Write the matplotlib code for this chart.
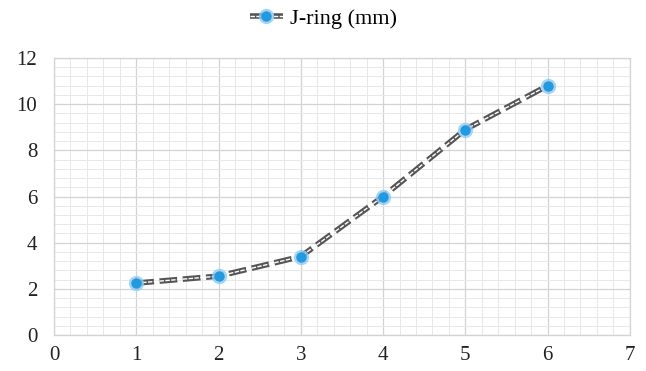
import matplotlib
matplotlib.use("Agg")
import matplotlib.pyplot as plt
from matplotlib.ticker import MultipleLocator

# J-ring readings per test
tests = [1, 2, 3, 4, 5, 6]
j_ring = [2.25, 2.55, 3.4, 6.0, 8.9, 10.8]

DARK = "#555555"
BLUE = "#1E9BE3"
HALO = "#8FCBF0"

plt.rcParams['font.family'] = ['Liberation Serif', 'DejaVu Serif']

fig = plt.figure(figsize=(6.46, 3.71), dpi=100)
ax = fig.add_axes([0.0836, 0.097, 0.8914, 0.7467])

ax.set_xlim(0, 7)
ax.set_ylim(0, 12)
ax.xaxis.set_major_locator(MultipleLocator(1))
ax.xaxis.set_minor_locator(MultipleLocator(0.2))
ax.yaxis.set_major_locator(MultipleLocator(2))
ax.yaxis.set_minor_locator(MultipleLocator(0.4))
ax.grid(which='major', color='#D3D3D3', linewidth=0.9)
ax.grid(which='minor', color='#E8E8E8', linewidth=0.7)
ax.set_axisbelow(True)
ax.tick_params(which='both', length=0, labelsize=15, colors='#222222')
ax.tick_params(axis='x', pad=8)
ax.tick_params(axis='y', pad=12)
for s in ax.spines.values():
    s.set_color('#D3D3D3')
    s.set_linewidth(0.9)

# double dashed line: thick dark dash with a thin white stripe through it
dash = (0, (3.2, 1.0))
outer, = ax.plot(tests, j_ring, color=DARK, linewidth=4.0, linestyle=dash,
                 dash_capstyle='butt', zorder=3)
inner, = ax.plot(tests, j_ring, color='white', linewidth=1.0, linestyle=dash,
                 dash_capstyle='butt', zorder=4)
halo, = ax.plot(tests, j_ring, linestyle='none', marker='o', markersize=11,
                markerfacecolor=HALO, markeredgecolor='none', alpha=0.8, zorder=5)
dots, = ax.plot(tests, j_ring, linestyle='none', marker='o', markersize=7.5,
                markerfacecolor=BLUE, markeredgecolor='none', zorder=6)

fig.legend([(outer, inner, halo, dots)], ['J-ring (mm)'], loc='center',
           bbox_to_anchor=(0.5, 0.95), frameon=False, fontsize=16,
           handlelength=1.5, handletextpad=0.3)

fig.savefig("out.png", dpi=100)
